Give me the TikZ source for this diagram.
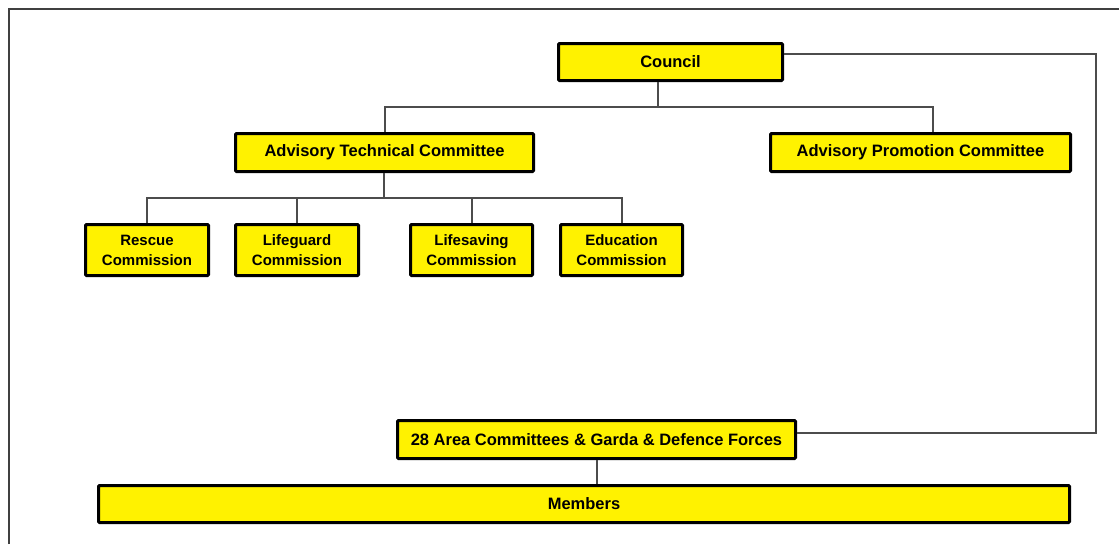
\documentclass[tikz,border=0pt]{standalone}
\usepackage{fontspec}
\setmainfont{Liberation Sans}
\begin{document}
\begin{tikzpicture}[x=1pt,y=-1pt,
  box/.style={draw=black, line width=3pt, fill=yellow, rounded corners=1pt,
    inner sep=0pt, align=center, font=\fontsize{16.5}{20}\selectfont\bfseries},
  smallbox/.style={box, font=\fontsize{15}{20}\selectfont\bfseries},
  conn/.style={draw=black!70, line width=2pt}]
\useasboundingbox (0,0) rectangle (1119,544);
\draw[line width=2.5pt, black!75] (9,544) -- (9,9) -- (1119,9);
% nodes
\node[box, minimum width=224pt, minimum height=37pt] (council) at (670.5,62) {Council};
\node[box, minimum width=298pt, minimum height=38pt] (atc) at (384.5,152.5) {Advisory Technical Committee};
\node[box, minimum width=300pt, minimum height=38pt] (apc) at (920.5,152.5) {Advisory Promotion Committee};
\node[smallbox, minimum width=123pt, minimum height=51pt] (rescue) at (147,250) {Rescue\\Commission};
\node[smallbox, minimum width=123pt, minimum height=51pt] (lifeguard) at (297,250) {Lifeguard\\Commission};
\node[smallbox, minimum width=122pt, minimum height=51pt] (lifesaving) at (471.5,250) {Lifesaving\\Commission};
\node[smallbox, minimum width=122pt, minimum height=51pt] (education) at (621.5,250) {Education\\Commission};
\node[box, minimum width=398pt, minimum height=38pt] (area) at (596.5,439.5) {28 Area Committees \& Garda \& Defence Forces};
\node[box, minimum width=971pt, minimum height=37pt] (members) at (584,504) {Members};
% junction coordinates
\coordinate (j1) at (658,106.5);
\coordinate (j2) at (384,197.5);
\coordinate (rc) at (1095.5,54);
% connectors
\draw[conn] (council.south -| j1) -- (j1);
\draw[conn] (atc.north) |- (j1) -| (apc.north -| 933,0);
\draw[conn] (atc.south -| j2) -- (j2);
\draw[conn] (rescue.north) |- (j2) -| (education.north);
\draw[conn] (lifeguard.north) -- (lifeguard.north |- j2);
\draw[conn] (lifesaving.north) -- (lifesaving.north |- j2);
\draw[conn] (council.east |- rc) -- (rc) |- (area.east |- 0,433);
\draw[conn] (area.south) -- (members.north -| area.south);
\end{tikzpicture}
\end{document}
